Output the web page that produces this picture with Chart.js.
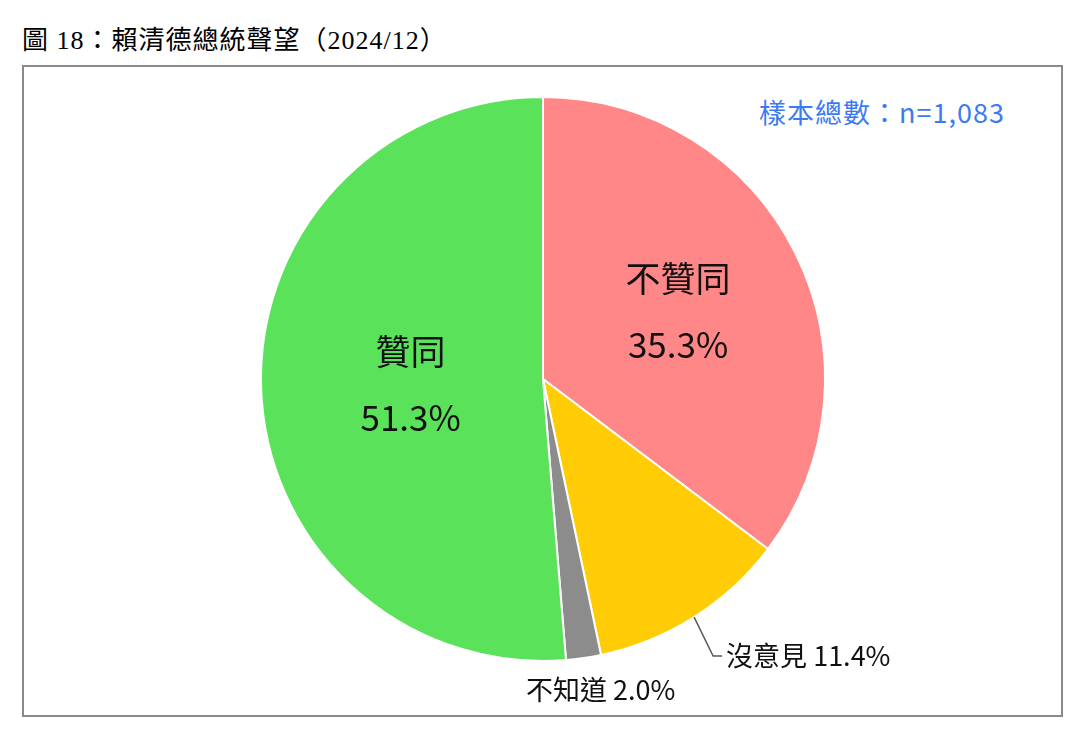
<!DOCTYPE html>
<html>
<head>
<meta charset="utf-8">
<script src="https://cdn.jsdelivr.net/npm/chart.js@4"></script>
<style>
  body { margin: 0; background: #fff; width: 1077px; height: 738px; position: relative; overflow: hidden; }
  #title { position: absolute; left: 22px; top: 19px; font: 26px "Liberation Serif", "Noto Sans CJK TC", serif; color: #000; letter-spacing: 1px; white-space: nowrap; }
  #box { position: absolute; left: 22px; top: 65px; width: 1037px; height: 648px; border: 2px solid #8a8a8a; }
  #sample { position: absolute; right: 72px; top: 92px; font: 27px "Noto Sans CJK TC", sans-serif; color: #3d7af2; letter-spacing: 1px; white-space: nowrap; }
  #wrap { position: absolute; left: 0; top: 0; width: 1077px; height: 738px; }
</style>
</head>
<body>
<div id="title">圖 18：賴清德總統聲望（2024/12）</div>
<div id="box"></div>
<div id="sample">樣本總數：n=1,083</div>
<div id="wrap"><canvas id="pie" width="1077" height="738"></canvas></div>
<script>
const categories = ['不贊同', '沒意見', '不知道', '贊同'];
const shares = [35.3, 11.4, 2.0, 51.3];
const colors = ['#ff8787', '#ffcc05', '#8c8c8c', '#5be25b'];

const labelFont = '"Noto Sans CJK TC", sans-serif';
// how far out (fraction of radius) the inner labels sit
const innerLabelRadius = { '不贊同': 0.535, '贊同': 0.47 };

const sliceLabels = {
    id: 'sliceLabels',
    afterDatasetsDraw(chart) {
        const ctx = chart.ctx;
        const arcs = chart.getDatasetMeta(0).data;
        ctx.save();
        ctx.fillStyle = '#111';
        arcs.forEach((arc, i) => {
            const name = categories[i];
            const pct = shares[i].toFixed(1) + '%';
            const mid = (arc.startAngle + arc.endAngle) / 2;
            if (shares[i] > 20) {
                const r = arc.outerRadius * innerLabelRadius[name];
                const x = arc.x + Math.cos(mid) * r;
                const y = arc.y + Math.sin(mid) * r;
                ctx.font = '35px ' + labelFont;
                ctx.textAlign = 'center';
                ctx.textBaseline = 'middle';
                ctx.fillText(name, x, y - 33);
                ctx.fillText(pct, x, y + 33);
            } else if (shares[i] > 5) {
                const x0 = arc.x + Math.cos(mid) * arc.outerRadius;
                const y0 = arc.y + Math.sin(mid) * arc.outerRadius;
                const x1 = x0 + 19, y1 = y0 + 39;
                ctx.strokeStyle = '#595959';
                ctx.lineWidth = 1.5;
                ctx.beginPath();
                ctx.moveTo(x0, y0);
                ctx.lineTo(x1, y1);
                ctx.lineTo(x1 + 9, y1);
                ctx.stroke();
                ctx.font = '27px ' + labelFont;
                ctx.textAlign = 'left';
                ctx.textBaseline = 'middle';
                ctx.fillText(name + ' ' + pct, x1 + 13, y1);
            } else {
                const x0 = arc.x + Math.cos(mid) * arc.outerRadius;
                const y0 = arc.y + Math.sin(mid) * arc.outerRadius;
                ctx.font = '27px ' + labelFont;
                ctx.textAlign = 'center';
                ctx.textBaseline = 'middle';
                ctx.fillText(name + ' ' + pct, x0 + 17, y0 + 32);
            }
        });
        ctx.restore();
    }
};

new Chart(document.getElementById('pie').getContext('2d'), {
    type: 'pie',
    data: {
        labels: categories,
        datasets: [{
            data: shares,
            backgroundColor: colors,
            borderColor: '#ffffff',
            borderWidth: 2
        }]
    },
    options: {
        responsive: false,
        animation: false,
        layout: { padding: { left: 260, top: 96, right: 251, bottom: 76 } },
        plugins: {
            legend: { display: false },
            tooltip: { enabled: false }
        }
    },
    plugins: [sliceLabels]
});
</script>
</body>
</html>
